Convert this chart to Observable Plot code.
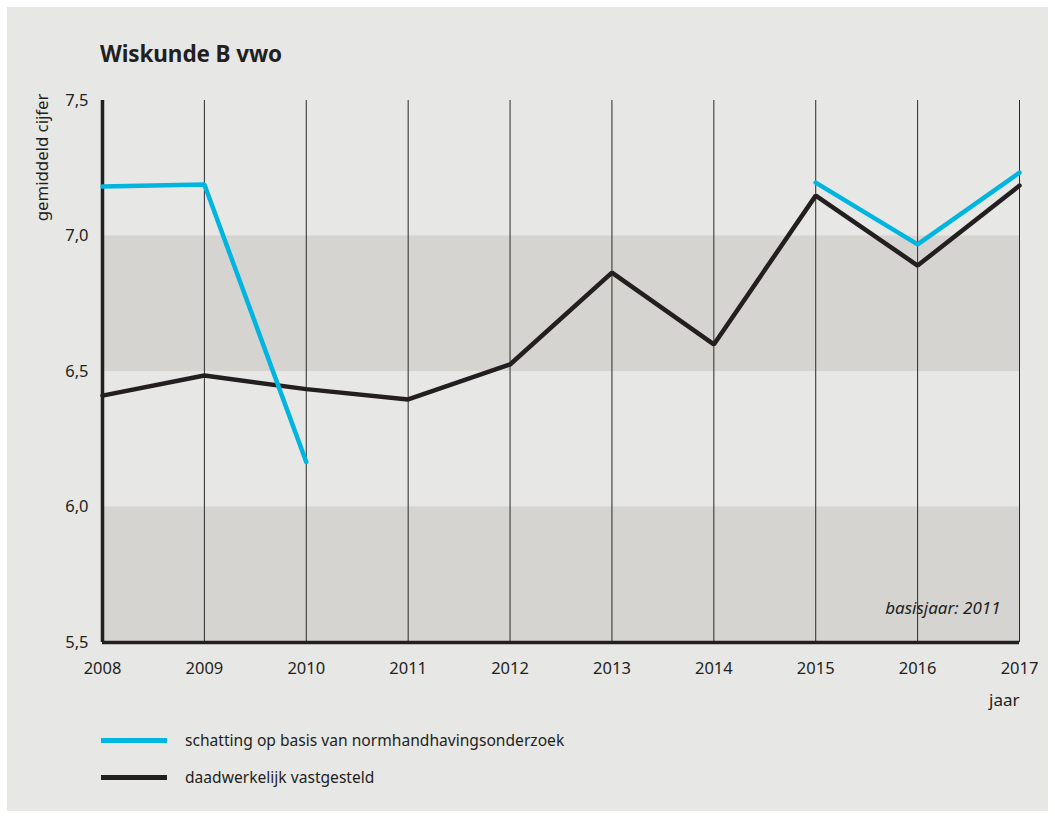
<!DOCTYPE html>
<html>
<head>
<meta charset="utf-8">
<script src="https://cdn.jsdelivr.net/npm/d3@7"></script>
<script src="https://cdn.jsdelivr.net/npm/@observablehq/plot@0.6"></script>
<style>
  html, body { margin: 0; padding: 0; background: #ffffff; }
  body { width: 1055px; height: 818px; position: relative; font-family: "Noto Sans", "Open Sans", sans-serif; color: #231f20; }
  #panel { position: absolute; left: 7px; top: 7px; width: 1041px; height: 804px; background: #e7e7e6; }
  #title { position: absolute; left: 93px; top: 31px; font-size: 22.5px; font-weight: 700; letter-spacing: -0.1px; }
  #chart { position: absolute; left: 0; top: 73px; }
  .leg { position: absolute; left: 94px; display: flex; align-items: center; font-size: 15.6px; }
  .leg .sw { width: 66px; height: 5px; margin-right: 18px; }
</style>
</head>
<body>
<div id="panel">
  <div id="title">Wiskunde B vwo</div>
  <div id="chart"></div>
  <div class="leg" style="top:722px"><div class="sw" style="background:#00b5e0"></div><span>schatting op basis van normhandhavingsonderzoek</span></div>
  <div class="leg" style="top:759px"><div class="sw" style="background:#231f20"></div><span>daadwerkelijk vastgesteld</span></div>
</div>
<script>
const years = [2008, 2009, 2010, 2011, 2012, 2013, 2014, 2015, 2016, 2017];
const schatting = [7.183, 7.19, 6.166, NaN, NaN, NaN, NaN, 7.197, 6.969, 7.234];
const vastgesteld = [6.411, 6.485, 6.435, 6.397, 6.526, 6.865, 6.60, 7.149, 6.891, 7.186];
const yTicks = [5.5, 6.0, 6.5, 7.0, 7.5];
const darkBands = [{y1: 5.5, y2: 6.0}, {y1: 6.5, y2: 7.0}];

const fmt = d => d.toFixed(1).replace(".", ",");

const rowsS = years.map((y, i) => ({year: y, value: schatting[i]}));
const rowsV = years.map((y, i) => ({year: y, value: vastgesteld[i]}));

const chart = Plot.plot({
  width: 1041,
  height: 640,
  marginLeft: 95,
  marginRight: 29,
  marginTop: 20,
  marginBottom: 78,
  style: {background: "transparent", fontFamily: "Noto Sans, Open Sans, sans-serif", fontSize: "16px", color: "#231f20"},
  x: {domain: [2008, 2017]},
  y: {domain: [5.5, 7.5]},
  marks: [
    Plot.rect(darkBands, {y1: "y1", y2: "y2", fill: "#d5d4d1"}),
    Plot.ruleX(years, {stroke: "#2a2a2a", strokeWidth: 1}),
    Plot.ruleX([years[0]], {stroke: "#231f20", strokeWidth: 3.5}),
    Plot.ruleY([yTicks[0]], {stroke: "#231f20", strokeWidth: 3.5}),
    Plot.axisX({ticks: years, tickFormat: d => String(d), tickSize: 0, tickPadding: 20, fontSize: 16.5, label: null}),
    Plot.axisY({ticks: yTicks, tickFormat: fmt, tickSize: 0, tickPadding: 14, fontSize: 16.5, label: null}),
    Plot.line(rowsV, {x: "year", y: "value", stroke: "#231f20", strokeWidth: 4.5, strokeLinejoin: "miter"}),
    Plot.line(rowsS, {x: "year", y: "value", stroke: "#00b5e0", strokeWidth: 4.5, strokeLinecap: "round", strokeLinejoin: "miter"}),
    Plot.text(["gemiddeld cijfer"], {frameAnchor: "top-left", rotate: -90, textAnchor: "end", dx: -66, dy: -7, fontSize: 16.8, fill: "#231f20"}),
    Plot.text(["jaar"], {frameAnchor: "bottom-right", textAnchor: "end", dy: 63, fontSize: 17, fill: "#231f20"}),
    Plot.text(["basisjaar: 2011"], {frameAnchor: "bottom-right", textAnchor: "end", dx: -19, dy: -29, fontSize: 17, fontStyle: "italic", fill: "#231f20"})
  ]
});
document.getElementById("chart").appendChild(chart);
</script>
</body>
</html>
